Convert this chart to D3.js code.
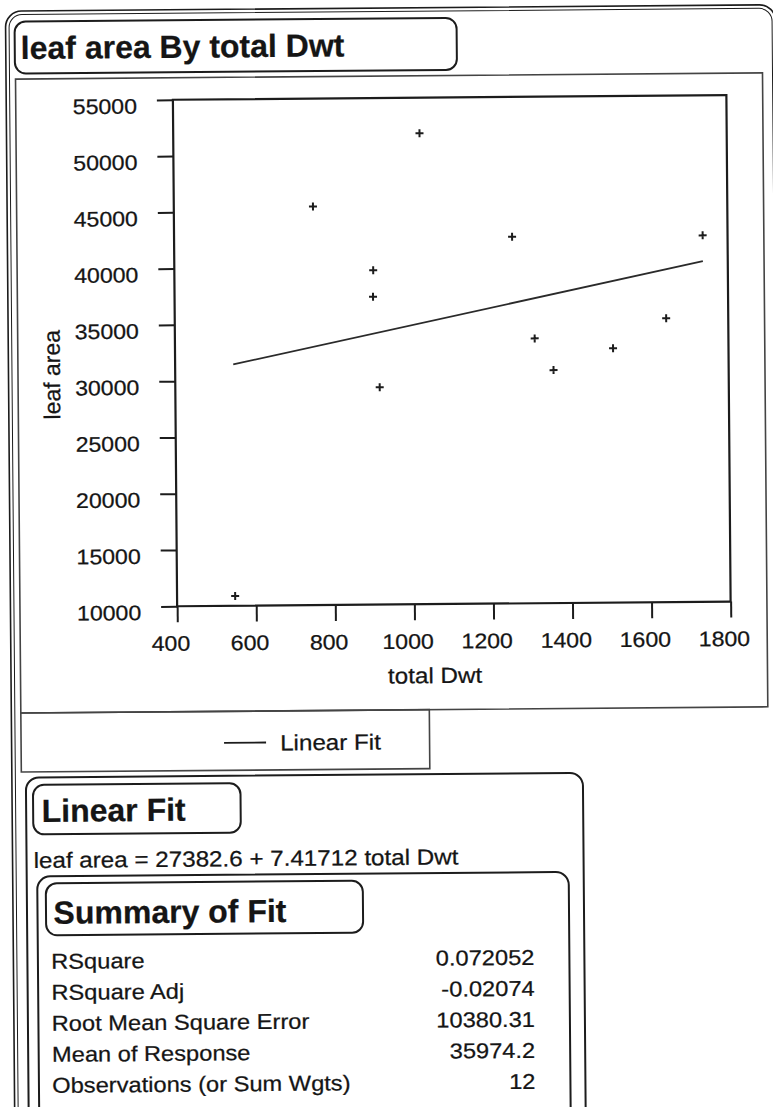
<!DOCTYPE html>
<html>
<head>
<meta charset="utf-8">
<script src="https://cdn.jsdelivr.net/npm/d3@7/dist/d3.min.js"></script>
<style>
  html, body { margin: 0; padding: 0; background: #fff; }
  svg { display: block; }
  text { font-family: "Liberation Sans", Arial, Helvetica, sans-serif; fill: #151515; stroke: #151515; stroke-width: 0.25; }
</style>
</head>
<body>
<svg id="chart" width="773" height="1107"></svg>
<script>
// ---------------- data ----------------
const chartTitle = "leaf area By total Dwt";
const xLabel = "total Dwt";
const yLabel = "leaf area";
const xTicks = [400, 600, 800, 1000, 1200, 1400, 1600, 1800];
const yTicks = [10000, 15000, 20000, 25000, 30000, 35000, 40000, 45000, 50000, 55000];
const totalDwt = [752, 903, 902, 917, 1023, 1255, 1737, 1643, 1310, 1508, 1357, 547];
const leafArea = [45420, 39710, 37350, 29300, 51840, 42570, 42560, 35220, 33530, 32600, 30700, 10870];
const fitName = "Linear Fit";
const fitIntercept = 27382.6;
const fitSlope = 7.41712;
const equationText = "leaf area = 27382.6 + 7.41712 total Dwt";
const summaryTitle = "Summary of Fit";
const summaryLabels = ["RSquare", "RSquare Adj", "Root Mean Square Error", "Mean of Response", "Observations (or Sum Wgts)"];
const summaryValues = ["0.072052", "-0.02074", "10380.31", "35974.2", "12"];

// ---------------- layout ----------------
const SX = 1.1; // horizontal stretch of the scanned regular text
const INK = "#1c1c1c";
const svg = d3.select("#chart");
svg.append("rect").attr("width", 773).attr("height", 1107).attr("fill", "#fff");
const root = svg.append("g").attr("transform", "rotate(-0.48,386,553)");

function txt(g, x, y, s, size, opts = {}) {
  const sx = opts.sx !== undefined ? opts.sx : SX;
  return g.append("text")
    .attr("transform", `translate(${x},${y}) scale(${sx},1)`)
    .attr("font-size", size)
    .attr("font-weight", opts.bold ? "bold" : "normal")
    .attr("text-anchor", opts.anchor || "start")
    .text(s);
}
function box(g, x, y, w, h, r, sw) {
  return g.append("rect").attr("x", x).attr("y", y).attr("width", w).attr("height", h)
    .attr("rx", r).attr("ry", r).attr("fill", "none").attr("stroke", INK).attr("stroke-width", sw);
}

// outer report frame (double line)
box(root, 10, 8, 770, 1140, 16, 1.6);
box(root, 13.5, 11.5, 763, 1133, 13, 1.0);

// title box
box(root, 19, 18.5, 442, 52, 11, 2);
txt(root, 25, 56, chartTitle, 32, { bold: true, sx: 1 });

// plot panel
root.append("rect").attr("x", 19.5).attr("y", 76).attr("width", 747).attr("height", 634)
  .attr("fill", "none").attr("stroke", "#444").attr("stroke-width", 1.6);

// ---------------- plot ----------------
const L = 176.7, R = 730.2, T = 98, B = 604.5;
const x = d3.scaleLinear().domain([400, 1800]).range([L, R]);
const y = d3.scaleLinear().domain([10000, 55000]).range([B, T]);

const gx = root.append("g").attr("transform", `translate(0,${B})`)
  .call(d3.axisBottom(x).tickValues(xTicks).tickFormat(d3.format("d")).tickSize(16).tickSizeOuter(0));
gx.select(".domain").remove();
gx.selectAll(".tick line").attr("stroke", INK).attr("stroke-width", 2);
gx.selectAll(".tick text")
  .attr("y", 44.5).attr("dy", 0).attr("x", -7 / SX)
  .attr("transform", `scale(${SX},1)`)
  .attr("font-size", 21).attr("font-family", null).attr("fill", null);

const gy = root.append("g").attr("transform", `translate(${L},0)`)
  .call(d3.axisLeft(y).tickValues(yTicks).tickFormat(d3.format("d")).tickSize(16).tickSizeOuter(0));
gy.select(".domain").remove();
gy.selectAll(".tick line").attr("stroke", INK).attr("stroke-width", 2);
gy.selectAll(".tick text")
  .attr("x", -36 / SX).attr("dy", 0).attr("y", 13)
  .attr("transform", `scale(${SX},1)`)
  .attr("font-size", 21).attr("font-family", null).attr("fill", null);

// frame
root.append("rect").attr("x", L).attr("y", T).attr("width", R - L).attr("height", B - T)
  .attr("fill", "none").attr("stroke", INK).attr("stroke-width", 2.2);

// axis titles
txt(root, 434, 683.5, xLabel, 22, { anchor: "middle" });
root.append("text")
  .attr("transform", `translate(61.5,372) rotate(-90)`)
  .attr("font-size", 23).attr("text-anchor", "middle").text(yLabel);

// fit line
const xExt = d3.extent(totalDwt);
const fitPts = xExt.map(v => [v, fitIntercept + fitSlope * v]);
root.append("path")
  .attr("d", d3.line().x(d => x(d[0])).y(d => y(d[1]))(fitPts))
  .attr("fill", "none").attr("stroke", "#2a2a2a").attr("stroke-width", 1.8);

// points
const pts = totalDwt.map((v, i) => ({ x: v, y: leafArea[i] }));
root.append("g").selectAll("path").data(pts).join("path")
  .attr("transform", d => `translate(${x(d.x)},${y(d.y)})`)
  .attr("d", "M-4,0H4M0,-4V4")
  .attr("stroke", INK).attr("stroke-width", 2).attr("fill", "none");

// ---------------- legend ----------------
root.append("rect").attr("x", 19.5).attr("y", 710).attr("width", 408.5).attr("height", 59)
  .attr("fill", "none").attr("stroke", "#444").attr("stroke-width", 1.6);
root.append("line").attr("x1", 222.5).attr("x2", 264.5).attr("y1", 741.5).attr("y2", 741.5)
  .attr("stroke", INK).attr("stroke-width", 1.8);
txt(root, 278.5, 749.5, fitName, 22);

// ---------------- Linear Fit report ----------------
box(root, 24, 774.5, 557, 400, 13, 2);
box(root, 31, 782, 207.5, 49.5, 11, 2);
txt(root, 39.5, 819, fitName, 32, { bold: true, sx: 1 });
txt(root, 31, 865, equationText, 22);

// Summary of Fit
box(root, 34.5, 873.5, 531.5, 300, 13, 2);
box(root, 43, 880.5, 317, 52, 11, 2);
txt(root, 50.5, 921, summaryTitle, 32, { bold: true, sx: 1 });

const rowY = d3.scalePoint().domain(summaryLabels).range([966, 1090]);
summaryLabels.forEach((lab, i) => {
  txt(root, 47.8, rowY(lab), lab, 21.5);
  txt(root, 531, rowY(lab), summaryValues[i], 21.5, { anchor: "end" });
});
</script>
</body>
</html>
